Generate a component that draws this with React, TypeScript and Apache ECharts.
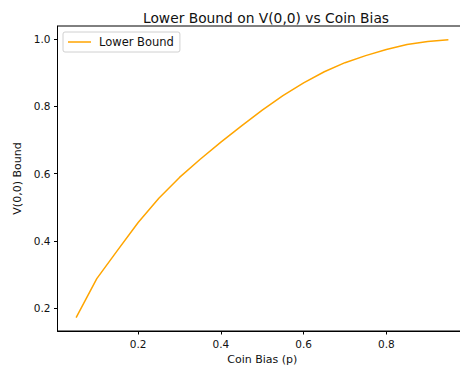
import React, { useEffect, useRef } from "react";
import * as echarts from "echarts";

const pValues = [0.05, 0.1, 0.15, 0.2, 0.25, 0.3, 0.35, 0.4, 0.45, 0.5, 0.55, 0.6, 0.65, 0.7, 0.75, 0.8, 0.85, 0.9, 0.95];
const lowerBound = [0.172, 0.288, 0.372, 0.455, 0.527, 0.589, 0.643, 0.694, 0.742, 0.789, 0.832, 0.870, 0.903, 0.930, 0.951, 0.969, 0.984, 0.993, 0.998];
const xTicks = [0.2, 0.4, 0.6, 0.8];
const yTicks = [0.2, 0.4, 0.6, 0.8, 1.0];

const FONT = "DejaVu Sans";

export default function App() {
  const ref = useRef<HTMLDivElement>(null);
  useEffect(() => {
    document.body.style.margin = "0";
    const chart = echarts.init(ref.current!, null, { renderer: "svg" });
    chart.setOption({
      animation: false,
      backgroundColor: "#ffffff",
      textStyle: { fontFamily: FONT },
      title: {
        text: "Lower Bound on V(0,0) vs Coin Bias",
        left: 261,
        textAlign: "center",
        top: 6,
        textStyle: { fontFamily: FONT, fontSize: 13.8, fontWeight: "normal", color: "#111" },
      },
      legend: {
        left: 63,
        top: 32,
        icon: "rect",
        itemWidth: 23,
        itemHeight: 1.5,
        padding: [4, 6, 4, 5],
        backgroundColor: "#fff",
        borderColor: "#d0d0d0",
        borderWidth: 1,
        borderRadius: 2,
        textStyle: { fontFamily: FONT, fontSize: 11.5, color: "#111", padding: [0, 0, 0, 3] },
        data: ["Lower Bound"],
      },
      grid: {
        left: 57.5,
        top: 26,
        right: -7,
        bottom: 43,
        outerBoundsMode: "none",
        show: true,
        borderColor: "#000",
        borderWidth: 1,
        containLabel: false,
      },
      xAxis: {
        type: "value",
        min: 0.005,
        max: 0.995,
        name: "Coin Bias (p)",
        nameLocation: "middle",
        nameGap: 21,
        nameTextStyle: { fontFamily: FONT, fontSize: 11, color: "#111" },
        axisLine: { show: true, lineStyle: { color: "#000", width: 1 } },
        axisTick: { show: true, length: 3.5, customValues: xTicks, lineStyle: { color: "#000" } },
        axisLabel: {
          customValues: xTicks,
          margin: 7,
          fontFamily: FONT,
          fontSize: 10.5,
          color: "#111",
          formatter: (v: number) => v.toFixed(1),
        },
        splitLine: { show: false },
      },
      yAxis: {
        type: "value",
        min: 0.1325,
        max: 1.039,
        name: "V(0,0) Bound",
        nameLocation: "middle",
        nameRotate: 90,
        nameGap: 30,
        nameTextStyle: { fontFamily: FONT, fontSize: 11, color: "#111" },
        axisLine: { show: true, lineStyle: { color: "#000", width: 1 } },
        axisTick: { show: true, length: 3.5, customValues: yTicks, lineStyle: { color: "#000" } },
        axisLabel: {
          customValues: yTicks,
          margin: 7,
          fontFamily: FONT,
          fontSize: 10.5,
          color: "#111",
          formatter: (v: number) => v.toFixed(1),
        },
        splitLine: { show: false },
      },
      series: [
        {
          name: "Lower Bound",
          type: "line",
          data: pValues.map((p, i) => [p, lowerBound[i]]),
          symbol: "none",
          lineStyle: { color: "#FFA500", width: 1.5 },
          itemStyle: { color: "#FFA500" },
        },
      ],
    });
    return () => chart.dispose();
  }, []);
  return <div ref={ref} style={{ width: 460, height: 374 }} />;
}
